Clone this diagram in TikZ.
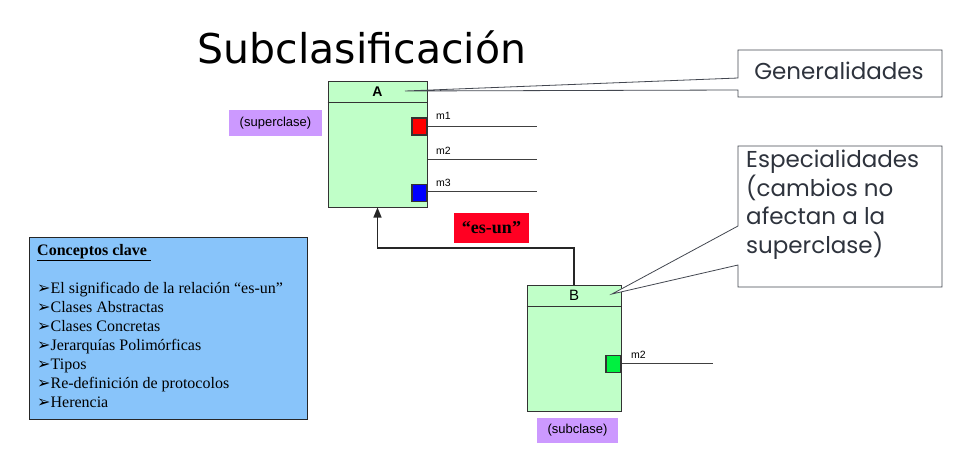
\documentclass[tikz,border=0pt]{standalone}
\usepackage{fontspec}
\setmainfont{Liberation Serif}
\setsansfont{Liberation Sans}
\newfontfamily\gothicfont{Poppins}
\newfontfamily\titlefont{DejaVu Sans}
\newfontfamily\symfont{DejaVu Sans}
\usetikzlibrary{arrows.meta}

\definecolor{claseverde}{HTML}{C0FFC8}
\definecolor{rolmorado}{HTML}{CC99FF}
\definecolor{rojoesun}{HTML}{FF0022}
\definecolor{azulnota}{HTML}{88C4FA}
\definecolor{verdemetodo}{HTML}{00F040}
\definecolor{gristexto}{HTML}{2E333D}

\newcommand{\flechita}{{\symfont\fontsize{16}{16}\selectfont ➢}}

\begin{document}
\begin{tikzpicture}[x=1pt,y=-1pt,
    clase/.style={draw=black!80, fill=claseverde, line width=1pt, minimum height=126pt, inner sep=0pt},
    metodo/.style={draw=black!80, very thick, minimum width=15pt, minimum height=17pt, inner sep=0pt},
    rol/.style={fill=rolmorado, font=\sffamily\fontsize{13}{14}\selectfont, inner sep=0pt, minimum height=26pt},
    mlabel/.style={anchor=west, font=\sffamily\fontsize{10.5}{11}\selectfont, inner sep=0pt},
    mlinea/.style={draw=black!75, line width=0.9pt},
    nota/.style={text=gristexto, font=\gothicfont\fontsize{23}{28.5}\selectfont, align=left, inner sep=0pt},
    llamada/.style={draw=gristexto!90, fill=white, line width=0.8pt}
  ]
  \useasboundingbox (0,0) rectangle (970,459);

  \node[font=\titlefont\fontsize{41}{43}\selectfont] (titulo) at (362,47) {Subclasificación};

  % superclase A
  \node[clase, minimum width=99pt] (A) at (377.5,144) {};
  \draw[black!80, line width=1pt] ([yshift=-22pt]A.north west) -- ([yshift=-22pt]A.north east);
  \node[font=\sffamily\bfseries\fontsize{14}{14}\selectfont] (Anombre) at ([yshift=-11pt]A.north) {A};
  \coordinate (Apunta) at (405,91);
  \node[rol, minimum width=93pt] (super) at (275.5,123) {(superclase)};

  \node[metodo, fill=red] (m1) at (419.5,126.5) {};
  \node[metodo, fill=blue] (m3) at (419.5,193) {};
  \coordinate (m1fin) at (537,126);
  \coordinate (m2fin) at (537,159);
  \coordinate (m3fin) at (537,191);
  \draw[mlinea] (A.east |- m1fin) -- (m1fin);
  \draw[mlinea] (A.east |- m2fin) -- (m2fin);
  \draw[mlinea] (A.east |- m3fin) -- (m3fin);
  \node[mlabel] at (436,116) {m1};
  \node[mlabel] at (436,151) {m2};
  \node[mlabel] at (436,183) {m3};

  % subclase B
  \node[clase, minimum width=94pt] (B) at (574,348) {};
  \draw[black!80, line width=1pt] ([yshift=-22pt]B.north west) -- ([yshift=-22pt]B.north east);
  \node[font=\sffamily\fontsize{15}{15}\selectfont] (Bnombre) at ([yshift=-11pt]B.north) {B};
  \coordinate (Bpunta) at (612,294);
  \node[rol, minimum width=81pt, minimum height=25pt] (sub) at (577.5,430.5) {(subclase)};

  \node[metodo, fill=verdemetodo] (mB) at (613.5,364) {};
  \coordinate (mBfin) at (713,363);
  \draw[mlinea] (B.east |- mBfin) -- (mBfin);
  \node[mlabel] at (631,355) {m2};

  % relacion es-un
  \coordinate (codo) at (574,248);
  \draw[black!85, line width=1.4pt, -{Triangle[length=10pt,width=8pt]}] (B.north) -- (codo) -| (A.south);
  \node[fill=rojoesun, minimum width=75pt, minimum height=30pt, inner sep=0pt,
        font=\bfseries\fontsize{18}{18}\selectfont] (esun) at (491.5,228) {“es-un”};

  % llamadas
  \coordinate (gen) at (738,50);
  \draw[llamada] (Apunta) -- (738,78) -- (gen) -- (942,50) -- (942,97) -- (738,97) -- (738,90) -- cycle;
  \node[nota] (generalidades) at (839,71) {Generalidades};

  \draw[llamada] (Bpunta) -- (738,226) -- (738,146) -- (942,146) -- (942,287) -- (738,287) -- (738,265) -- cycle;
  \node[nota, anchor=north west] (especialidades) at (746,150) {Especialidades\\(cambios no\\afectan a la\\superclase)};

  % conceptos clave
  \node[draw=black!85, fill=azulnota, line width=0.9pt, anchor=north west, minimum width=278pt, minimum height=182pt] (conceptos) at (29,237) {};
  \node[anchor=north west, align=left, inner sep=0pt, font=\fontsize{16}{19}\selectfont] (lista) at (37,244)
    {\textbf{\underline{Conceptos clave\ }}\\[19pt]
     \flechita El significado de la relación “es-un”\\
     \flechita Clases Abstractas\\
     \flechita Clases Concretas\\
     \flechita Jerarquías Polimórficas\\
     \flechita Tipos\\
     \flechita Re-definición de protocolos\\
     \flechita Herencia};
\end{tikzpicture}
\end{document}
